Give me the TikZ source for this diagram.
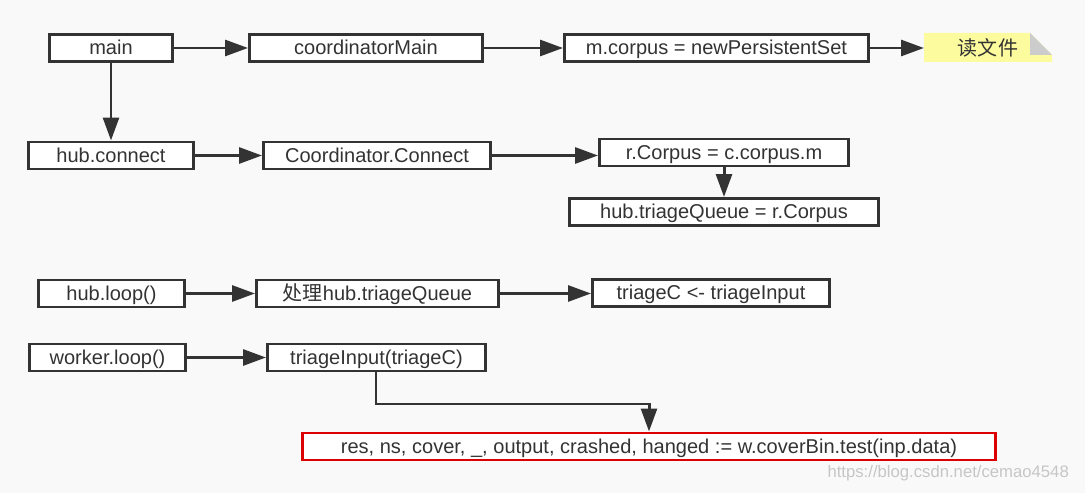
\documentclass[tikz,border=0pt]{standalone}
\usepackage{fontspec}
\setmainfont{Liberation Sans}
\newfontfamily\cjk{Noto Sans CJK SC}
\usepackage{xcolor}
\usepackage{tikz}
\usetikzlibrary{positioning, calc, arrows.meta}
\definecolor{bgcol}{HTML}{F9F9F9}
\definecolor{inkgray}{HTML}{333333}
\definecolor{alertred}{HTML}{DD0000}
\definecolor{noteyellow}{HTML}{FCFC9E}
\definecolor{foldgray}{HTML}{CCCCCC}

\begin{document}
\begin{tikzpicture}[x=0.02cm, y=-0.02cm,
		every node/.style={font=\fontsize{11.4}{14}\selectfont, text=inkgray},
		callbox/.style={draw=inkgray, line width=1.7pt, fill=white, minimum height=0.54cm, inner sep=0pt, text height=1.75ex, text depth=0.25ex},
		flow/.style={-{Triangle[length=13pt, width=9pt]}, draw=inkgray, line width=1.7pt}]
			\fill[bgcol] (0,0) rectangle (1085,493);
			\useasboundingbox (0,0) rectangle (1085,493);
			
			\node[callbox, minimum width=2.46cm] (main) at (111,48) {main};
			\node[callbox, minimum width=4.66cm] (coordmain) at (366,48) {coordinatorMain};
			\node[callbox, minimum width=6.08cm] (newset) at (716.5,48) {m.corpus = newPersistentSet};
			
			% note with folded corner
			\fill[noteyellow] (924,33) -- (1030,33) -- (1052,55) -- (1052,62) -- (924,62) -- cycle;
			\fill[foldgray] (1030,33) -- (1030,55) -- (1052,55) -- cycle;
			\node (readfile) at (988,48) {\cjk 读文件};
			\coordinate (notein) at (924,48);
			
			\node[callbox, minimum width=3.30cm] (hubconnect) at (111,155.5) {hub.connect};
			\node[callbox, minimum width=4.54cm] (coordconnect) at (377,155.5) {Coordinator.Connect};
			\node[callbox, minimum width=4.98cm] (rcorpus) at (724,152.5) {r.Corpus = c.corpus.m};
			\node[callbox, minimum width=6.18cm] (triagequeue) at (724,212) {hub.triageQueue = r.Corpus};
			
			\node[callbox, minimum width=2.92cm] (hubloop) at (111.5,293.5) {hub.loop()};
			\node[callbox, minimum width=4.84cm] (handlequeue) at (377.5,293.5) {{\cjk 处理}hub.triageQueue};
			\node[callbox, minimum width=4.74cm] (sendtriage) at (711,293) {triageC <- triageInput};
			
			\node[callbox, minimum width=3.12cm] (workerloop) at (107.5,357.5) {worker.loop()};
			\node[callbox, minimum width=4.36cm] (triageinput) at (376.5,357.5) {triageInput(triageC)};
			\node[callbox, draw=alertred, minimum width=13.86cm] (covertest) at (649,446.5) {res, ns, cover, \_, output, crashed, hanged := w.coverBin.test(inp.data)};
			\coordinate (elbow) at (376,404);
			
			\draw[flow] (main) -- (coordmain);
			\draw[flow] (coordmain) -- (newset);
			\draw[flow] (newset) -- (notein);
			\draw[flow] (main) -- (hubconnect);
			\draw[flow] (hubconnect) -- (coordconnect);
			\draw[flow] (coordconnect.east) -- (rcorpus.west |- coordconnect.east);
			\draw[flow] (rcorpus) -- (triagequeue);
			\draw[flow] (hubloop) -- (handlequeue);
			\draw[flow] (handlequeue.east) -- (sendtriage.west |- handlequeue.east);
			\draw[flow] (workerloop) -- (triageinput);
			\draw[flow] (triageinput.south -| elbow) -- (elbow) -| (covertest.north);
			
			\node[anchor=east, text=gray!45, font=\fontsize{9.5}{11}\selectfont] (watermark) at (1075,473) {https://blog.csdn.net/cemao4548};
\end{tikzpicture}
\end{document}
